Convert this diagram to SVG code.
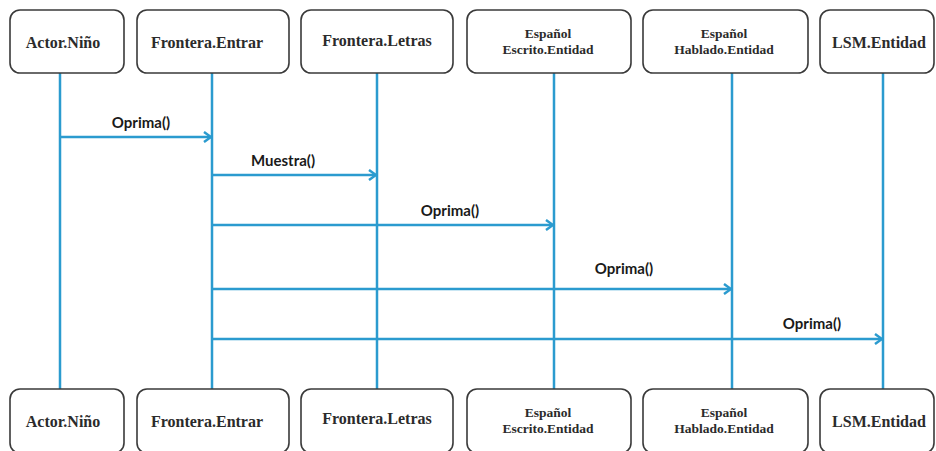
<svg xmlns="http://www.w3.org/2000/svg" width="936" height="451" viewBox="0 0 936 451">
  <style>
    .box { fill: #ffffff; stroke: #3a3a3a; stroke-width: 1.6; }
    .lbl { font-family: "Liberation Serif", "DejaVu Serif", serif; font-weight: bold; font-size: 16px; fill: #2b2b2b; text-anchor: middle; }
    .lbl2 { font-family: "Liberation Serif", "DejaVu Serif", serif; font-weight: bold; font-size: 13.5px; fill: #2b2b2b; text-anchor: middle; }
    .life { stroke: #2b9bcf; stroke-width: 2.5; fill: none; }
    .msg { stroke: #2b9bcf; stroke-width: 2.5; fill: none; marker-end: url(#arrow); }
    .mtxt { font-family: "Lato", "Liberation Sans", sans-serif; font-weight: bold; font-size: 15px; fill: #1a1a1a; text-anchor: middle; }
  </style>
  <defs>
    <marker id="arrow" markerWidth="12" markerHeight="12" refX="10" refY="6" orient="auto" markerUnits="userSpaceOnUse">
      <polyline points="3,1 10,6 3,11" fill="none" stroke="#2b9bcf" stroke-width="2.5"/>
    </marker>
  </defs>

  <!-- lifelines and messages -->
  <g id="connectors">
    <line class="life" x1="60" y1="73" x2="60" y2="389"/>
    <line class="life" x1="212" y1="73" x2="212" y2="389"/>
    <line class="life" x1="377" y1="73" x2="377" y2="389"/>
    <line class="life" x1="554" y1="73" x2="554" y2="389"/>
    <line class="life" x1="732" y1="73" x2="732" y2="389"/>
    <line class="life" x1="883" y1="73" x2="883" y2="389"/>

    <line class="msg" x1="60" y1="137" x2="211" y2="137"/>
    <text class="mtxt" x="141" y="128">Oprima()</text>

    <line class="msg" x1="212" y1="175" x2="376" y2="175"/>
    <text class="mtxt" x="283" y="166">Muestra()</text>

    <line class="msg" x1="212" y1="225" x2="553" y2="225"/>
    <text class="mtxt" x="450" y="216">Oprima()</text>

    <line class="msg" x1="212" y1="289" x2="731" y2="289"/>
    <text class="mtxt" x="624" y="274">Oprima()</text>

    <line class="msg" x1="212" y1="339" x2="882" y2="339"/>
    <text class="mtxt" x="812" y="329">Oprima()</text>
  </g>

  <!-- top participants -->
  <g id="actor-nino-top">
    <rect class="box" x="10" y="10" width="114" height="63" rx="10"/>
    <text class="lbl" x="63" y="48">Actor.Niño</text>
  </g>
  <g id="frontera-entrar-top">
    <rect class="box" x="137" y="10" width="152" height="63" rx="10"/>
    <text class="lbl" x="207" y="48">Frontera.Entrar</text>
  </g>
  <g id="frontera-letras-top">
    <rect class="box" x="301" y="10" width="152" height="63" rx="10"/>
    <text class="lbl" x="377" y="46">Frontera.Letras</text>
  </g>
  <g id="espanol-escrito-top">
    <rect class="box" x="467" y="10" width="164" height="63" rx="10"/>
    <text class="lbl2" x="548" y="38">Español</text>
    <text class="lbl2" x="548" y="54">Escrito.Entidad</text>
  </g>
  <g id="espanol-hablado-top">
    <rect class="box" x="643" y="10" width="165" height="63" rx="10"/>
    <text class="lbl2" x="724" y="38">Español</text>
    <text class="lbl2" x="724" y="54">Hablado.Entidad</text>
  </g>
  <g id="lsm-entidad-top">
    <rect class="box" x="820" y="10" width="114" height="63" rx="10"/>
    <text class="lbl" x="879" y="48">LSM.Entidad</text>
  </g>

  <!-- bottom participants -->
  <g id="actor-nino-bottom">
    <rect class="box" x="10" y="389" width="114" height="64" rx="10"/>
    <text class="lbl" x="63" y="427">Actor.Niño</text>
  </g>
  <g id="frontera-entrar-bottom">
    <rect class="box" x="137" y="389" width="152" height="64" rx="10"/>
    <text class="lbl" x="207" y="427">Frontera.Entrar</text>
  </g>
  <g id="frontera-letras-bottom">
    <rect class="box" x="301" y="389" width="152" height="64" rx="10"/>
    <text class="lbl" x="377" y="424">Frontera.Letras</text>
  </g>
  <g id="espanol-escrito-bottom">
    <rect class="box" x="467" y="389" width="164" height="64" rx="10"/>
    <text class="lbl2" x="548" y="417">Español</text>
    <text class="lbl2" x="548" y="433">Escrito.Entidad</text>
  </g>
  <g id="espanol-hablado-bottom">
    <rect class="box" x="643" y="389" width="165" height="64" rx="10"/>
    <text class="lbl2" x="724" y="417">Español</text>
    <text class="lbl2" x="724" y="433">Hablado.Entidad</text>
  </g>
  <g id="lsm-entidad-bottom">
    <rect class="box" x="820" y="389" width="114" height="64" rx="10"/>
    <text class="lbl" x="879" y="427">LSM.Entidad</text>
  </g>
</svg>
